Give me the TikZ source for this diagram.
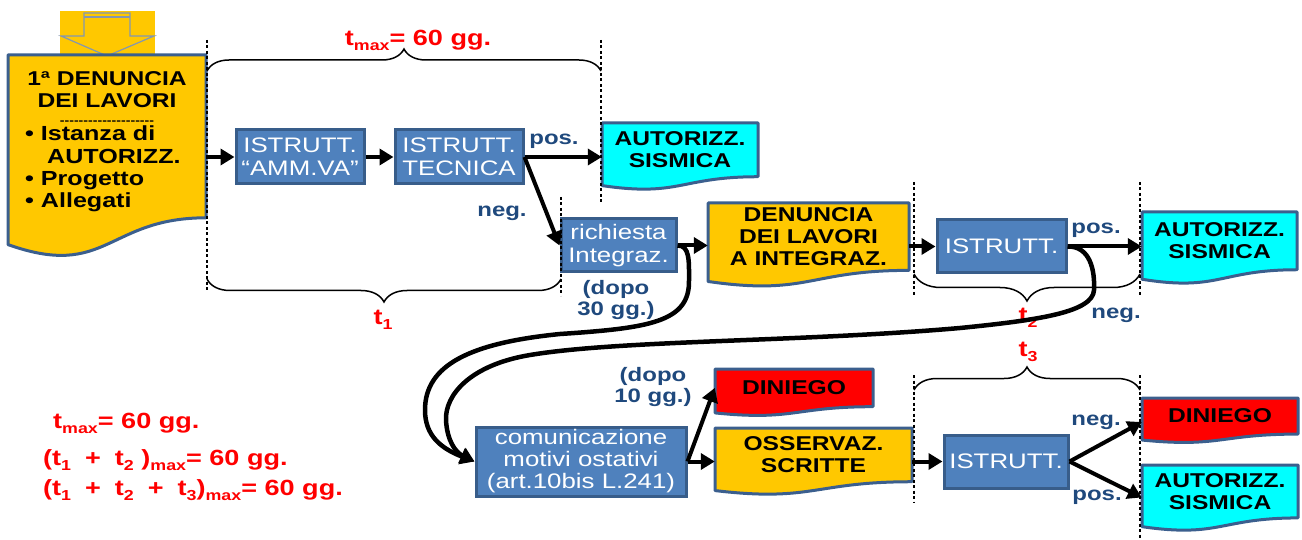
\documentclass[tikz,border=0pt]{standalone}
\usepackage{fontspec}
\setmainfont[FakeStretch=1.23]{Liberation Sans}
\usetikzlibrary{arrows.meta,decorations.pathreplacing}
\definecolor{docyel}{HTML}{FFC800}
\definecolor{doccyan}{HTML}{00FFFF}
\definecolor{docred}{HTML}{FF0000}
\definecolor{boxfill}{HTML}{4F81BD}
\definecolor{boxline}{HTML}{385D8A}
\definecolor{docbord}{HTML}{3B5F8E}
\definecolor{lblblue}{HTML}{1F497D}
\definecolor{arrgray}{HTML}{8497B0}
\newcommand\subtxt[1]{\raisebox{-5pt}{\fontsize{14.5}{14.5}\selectfont #1}}
\newcommand\plustxt{\hspace{14pt}+\hspace{14pt}}
% document shape: name, x1, y1, x2, h, fill, text
\newcommand\mydoc[7]{%
  \pgfmathsetmacro\mdA{#3+0.802*#5}%
  \pgfmathsetmacro\mdB{#3+1.107*#5}%
  \pgfmathsetmacro\mdC{#3+0.934*#5}%
  \pgfmathsetmacro\mdM{(#2+#4)/2}%
  \pgfmathsetmacro\mdW{#4-#2}%
  \pgfmathsetmacro\mdH{0.802*#5}%
  \pgfmathsetmacro\mdY{#3+0.401*#5}%
  \draw[docline,fill=#6] (#2,#3) -- (#4,#3) -- (#4,\mdA) .. controls (\mdM,\mdA) and (\mdM,\mdB) .. (#2,\mdC) -- cycle;
  \node[docnode,minimum width=\mdW pt,minimum height=\mdH pt] (#1) at (\mdM,\mdY) {#7};
}
\begin{document}
\begin{tikzpicture}[x=1pt,y=-1pt,
  box/.style={draw=boxline,fill=boxfill,line width=3pt,text=white,align=center,inner sep=0pt,font=\fontsize{21}{23}\selectfont},
  docline/.style={draw=docbord,line width=3pt,line join=round},
  docnode/.style={draw=none,inner sep=0pt,align=center,font=\fontsize{20}{22}\selectfont\bfseries},
  lbl/.style={text=lblblue,inner sep=0pt,align=center,font=\fontsize{19.5}{21}\selectfont\bfseries},
  tlbl/.style={text=red,inner sep=0pt,font=\fontsize{22}{24}\selectfont\bfseries},
  arr/.style={line width=4pt,-{Triangle[length=14pt,width=16pt]}},
  curvarr/.style={line width=4.5pt,-{Triangle[length=14pt,width=16pt]}},
  vdash/.style={line width=1.5pt,dash pattern=on 3pt off 2.5pt},
  brc/.style={decorate,decoration={brace,amplitude=#1},line width=1.5pt}
]
\useasboundingbox (0,0) rectangle (1302,540);
% top yellow arrow
\fill[docyel] (60,11) rectangle (155,57);
\draw[arrgray,line width=1.2pt,fill=docyel] (84,13) -- (130,13) -- (130,36) -- (154,36) -- (107,56) -- (61,36) -- (84,36) -- cycle;
\draw[arrgray,line width=1.2pt] (84,17) -- (130,17);
% documents
\mydoc{den1}{8}{55}{206}{203}{docyel}{}
\mydoc{aut1}{602}{123}{758}{67}{doccyan}{AUTORIZZ.\\SISMICA}
\mydoc{denI}{708}{203}{909}{84}{docyel}{DENUNCIA\\DEI LAVORI\\A INTEGRAZ.}
\mydoc{aut2}{1142}{212}{1297}{72}{doccyan}{AUTORIZZ.\\SISMICA}
\mydoc{din1}{715}{369}{873}{47}{docred}{DINIEGO}
\mydoc{oss}{715}{428}{912}{67}{docyel}{OSSERVAZ.\\SCRITTE}
\mydoc{din2}{1142}{398}{1298}{45}{docred}{DINIEGO}
\mydoc{aut3}{1142}{465}{1298}{66}{doccyan}{AUTORIZZ.\\SISMICA}
% left document text
\node[docnode,anchor=north] (den1a) at (107,71) {1ª DENUNCIA\\DEI LAVORI\\[-5pt]{\fontsize{11.5}{12}\selectfont -{}-{}-{}-{}-{}-{}-{}-{}-{}-{}-{}-{}-{}-{}-{}-{}-{}-{}-{}-}};
\node[docnode,anchor=north west,align=left,font=\fontsize{20.4}{22.3}\selectfont\bfseries] (den1b) at (25,126) {• Istanza di\\\hspace*{22pt}AUTORIZZ.\\• Progetto\\• Allegati};
% boxes
\node[box,minimum width=128pt,minimum height=54pt] (amm) at (300,157) {ISTRUTT.\\“AMM.VA”};
\node[box,minimum width=128pt,minimum height=54pt] (tec) at (459,157) {ISTRUTT.\\TECNICA};
\node[box,minimum width=115pt,minimum height=53pt] (rich) at (618.5,245.5) {richiesta\\Integraz.};
\node[box,minimum width=129pt,minimum height=53pt] (ist2) at (1001.5,246.5) {ISTRUTT.};
\node[box,minimum width=210pt,minimum height=69pt,font=\fontsize{21}{22}\selectfont] (com) at (581,461.5) {comunicazione\\motivi ostativi\\(art.10bis L.241)};
\node[box,minimum width=124pt,minimum height=53pt] (ist3) at (1006,461.5) {ISTRUTT.};
% dashed verticals
\draw[vdash] (207,40) -- (207,292);
\draw[vdash] (601,40) -- (601,203);
\draw[vdash] (561,197) -- (561,296);
\draw[vdash] (914,182) -- (914,296);
\draw[vdash] (1140,182) -- (1140,296);
\draw[vdash] (914,375) -- (914,502);
\draw[vdash] (1140,375) -- (1140,540);
% braces
\draw[brc=22] (207,71) -- (601,71);
\draw[brc=23] (561,279) -- (207,279);
\draw[brc=27] (1140,274) -- (914,274);
\draw[brc=23] (914,390) -- (1140,390);
% red labels
\node[tlbl] (tmax) at (418,40) {t\subtxt{max}= 60 gg.};
\node[tlbl] (t1) at (383,320) {t\subtxt{1}};
\node[tlbl] (t2) at (1028,318) {t\subtxt{2}};
\node[tlbl] (t3) at (1028,352) {t\subtxt{3}};
\node[tlbl,anchor=west] (leg1) at (53,423) {t\subtxt{max}= 60 gg.};
\node[tlbl,anchor=west] (leg2) at (43,460) {(t\subtxt{1}\plustxt t\subtxt{2} )\subtxt{max}= 60 gg.};
\node[tlbl,anchor=west] (leg3) at (43,490) {(t\subtxt{1}\plustxt t\subtxt{2}\plustxt t\subtxt{3})\subtxt{max}= 60 gg.};
% blue labels
\node[lbl] (pos1) at (554,141) {pos.};
\node[lbl] (neg1) at (502,213) {neg.};
\node[lbl] (dopo30) at (616,300) {(dopo\\30 gg.)};
\node[lbl] (pos2) at (1096,230) {pos.};
\node[lbl] (neg2) at (1116,315) {neg.};
\node[lbl] (dopo10) at (653,387) {(dopo\\10 gg.)};
\node[lbl] (neg3) at (1096,422) {neg.};
\node[lbl] (pos3) at (1097,497) {pos.};
% arrows
\draw[arr] (den1.east |- amm.west) -- (amm.west);
\draw[arr] (amm.east) -- (tec.west);
\draw[arr] (tec.east) -- (tec.east -| aut1.west);
\draw[arr] (tec.east) -- (rich.west);
\draw[arr] (rich.east) -- (rich.east -| denI.west);
\draw[arr] (denI.east |- ist2.west) -- (ist2.west);
\draw[arr] (ist2.east) -- (ist2.east -| aut2.west);
\draw[arr] (com.east) -- (din1.west);
\draw[arr] (com.east) -- (com.east -| oss.west);
\draw[arr] (oss.east |- ist3.west) -- (ist3.west);
\draw[arr] (ist3.east) -- ([yshift=-6pt]din2.west);
\draw[arr] (ist3.east) -- ([yshift=-6pt]aut3.west);
% curved connectors
\draw[curvarr] (rich.east) .. controls (690,245) and (689,262) .. (689,280)
  .. controls (690,322) and (650,328) .. (560,334)
  .. controls (470,343) and (425,365) .. (425,410)
  .. controls (425,435) and (440,448) .. (com.west);
\draw[curvarr] (ist2.east) .. controls (1090,246) and (1095,270) .. (1094,290)
  .. controls (1093,312) and (1040,320) .. (960,328)
  .. controls (800,342) and (620,340) .. (530,355)
  .. controls (470,365) and (445,395) .. (446,420)
  .. controls (447,440) and (455,452) .. (com.west);
\end{tikzpicture}
\end{document}
